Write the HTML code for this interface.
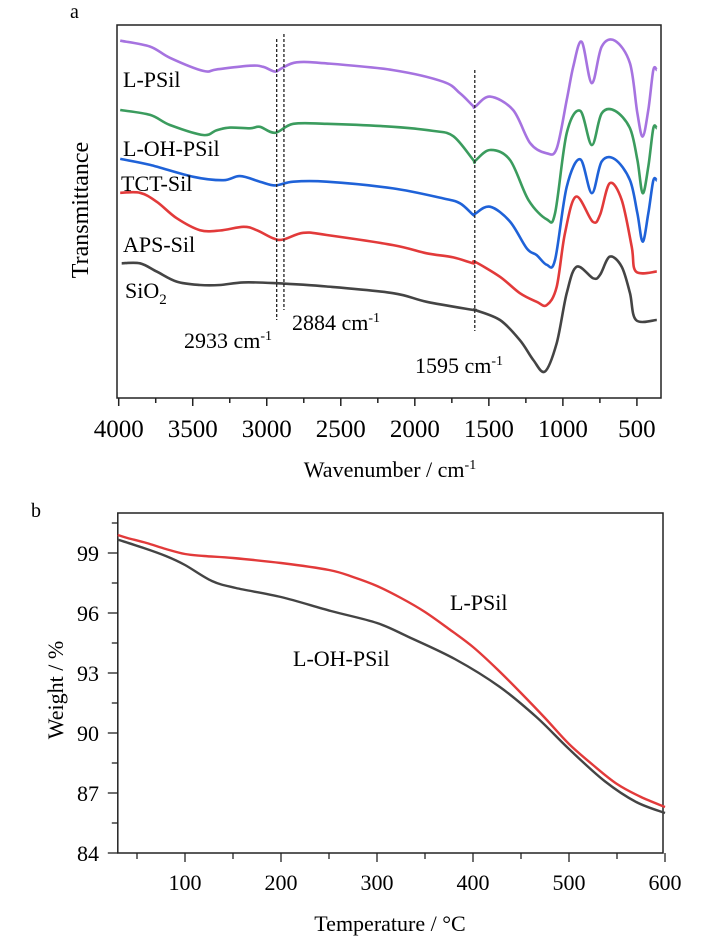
<!DOCTYPE html>
<html><head><meta charset="utf-8">
<style>
html,body{margin:0;padding:0;background:#fff;}
svg{display:block;font-family:"Liberation Serif",serif;}
</style></head>
<body>
<svg id="fig" width="708" height="944" viewBox="0 0 708 944">
  <g id="ir"></g>
  <g id="tga"></g>
</svg>
<script>
// ---- FTIR data (transmittance a.u.) ----
const irTicks = [4000,3500,3000,2500,2000,1500,1000,500];
const wnLPSil = [3990,3788,3654,3429,3338,3113,3025,2944,2899,2798,2595,2147,1809,1695,1607,1593,1492,1336,1221,1109,1042,974,930,873,805,738,648,547,497,461,423,389,366];
const tLPSil  = [95.8,94.2,91.2,87.7,88.1,89.1,88.8,87.5,88.4,90.0,89.7,87.9,84.8,81.7,78.3,78.1,80.8,77.2,68.3,65.6,66.9,79.9,88.8,95.5,84.4,94.2,95.8,89.7,76.3,70.1,77.2,87.9,87.9];
const wnLOH = [3990,3788,3654,3429,3338,3248,3113,3046,2944,2821,2595,2147,1877,1740,1605,1593,1492,1357,1233,1109,1053,974,883,805,738,648,547,497,461,423,389,366];
const tLOH  = [77.2,75.9,73.2,70.5,71.8,72.5,72.3,72.7,71.1,73.5,73.5,72.7,71.6,70.2,63.8,63.6,66.5,63.8,53.1,47.9,49.5,71.0,77.0,67.8,76.3,77.0,72.3,63.8,54.9,62.0,72.3,72.3];
const wnTCT = [3990,3788,3496,3293,3181,3046,2944,2821,2595,2147,1809,1695,1605,1593,1492,1357,1244,1177,1109,1053,974,883,805,738,648,547,497,461,423,389,366];
const tTCT  = [64.1,62.5,59.3,58.4,59.5,58.0,57.0,58.0,58.0,56.2,53.5,52.2,49.1,49.4,51.3,47.3,40.1,38.3,35.7,37.0,56.6,64.0,54.9,63.4,64.0,58.4,49.5,41.9,49.5,58.3,58.3];
const wnAPS = [3990,3856,3743,3608,3451,3316,3158,3068,2956,2888,2753,2595,2147,1920,1740,1605,1593,1425,1290,1177,1109,1042,986,911,799,749,683,603,535,506,366];
const tAPS  = [55.0,55.0,52.6,48.2,45.0,44.9,45.9,45.0,42.8,42.5,44.3,43.7,41.0,38.8,37.7,36.1,36.5,32.5,28.1,25.8,24.9,29.8,44.2,54.0,47.3,49.1,57.6,53.1,40.6,33.9,33.9];
const wnSiO2 = [3980,3856,3743,3608,3451,3316,3158,2956,2595,2147,1920,1605,1593,1425,1290,1200,1121,1042,974,907,795,749,683,603,547,506,366];
const tSiO2  = [36.1,36.1,33.9,31.2,30.3,30.3,31.0,30.8,29.9,28.1,25.8,23.6,23.6,20.9,15.5,10.2,7.1,14.7,28.1,35.2,32.1,33.0,37.9,35.2,28.1,20.9,20.9];
const markerWn = [2933,2884,1595];

// ---- TGA data ----
const tgaXTicks = [100,200,300,400,500,600];
const tgaYTicks = [84,87,90,93,96,99];
const tempLPSil = [30,40,60,80,100,120,150,200,250,275,300,325,350,375,400,425,450,475,500,525,550,575,600];
const wLPSil    = [99.9,99.75,99.5,99.2,98.95,98.85,98.75,98.5,98.15,97.8,97.35,96.75,96.05,95.2,94.3,93.2,92.0,90.75,89.45,88.4,87.45,86.8,86.3];
const tempLOH = [30,57,80,100,128,153,200,252,300,333,381,428,466,500,537,570,600];
const wLOH    = [99.67,99.25,98.85,98.4,97.6,97.25,96.8,96.1,95.5,94.8,93.7,92.3,90.8,89.2,87.6,86.55,86.0];

const NS='http://www.w3.org/2000/svg';
function mk(parent, tag, attrs, text){
  const e=document.createElementNS(NS,tag);
  for(const k in attrs) e.setAttribute(k,attrs[k]);
  if(text!==undefined) e.textContent=text;
  parent.appendChild(e); return e;
}
function smoothPath(pts){
  let d='M'+pts[0][0].toFixed(1)+','+pts[0][1].toFixed(1);
  for(let i=0;i<pts.length-1;i++){
    const p0=pts[Math.max(0,i-1)],p1=pts[i],p2=pts[i+1],p3=pts[Math.min(pts.length-1,i+2)];
    const c1=[p1[0]+(p2[0]-p0[0])/6,p1[1]+(p2[1]-p0[1])/6];
    const c2=[p2[0]-(p3[0]-p1[0])/6,p2[1]-(p3[1]-p1[1])/6];
    d+='C'+c1[0].toFixed(1)+','+c1[1].toFixed(1)+' '+c2[0].toFixed(1)+','+c2[1].toFixed(1)+' '+p2[0].toFixed(1)+','+p2[1].toFixed(1);
  }
  return d;
}

// ===== FTIR panel =====
const ir=document.getElementById('ir');
const irL=117,irR=661,irT=25,irB=398;
const xIR=w=>118.7+(4000-w)*0.14806;
const yIR=t=>irB-t*(irB-irT)/100;
let e;
e=mk(ir,'text',{x:70,y:18,'font-size':20},'a');


e=mk(ir,'rect',{x:irL,y:irT,width:irR-irL,height:irB-irT,fill:'none',stroke:'#222','stroke-width':1.5});


irTicks.forEach(w=>{
  const x=xIR(w);
  const t=mk(ir,'line',{x1:x,x2:x,y1:irB,y2:irB+8,stroke:'#222','stroke-width':1.5});
  
  
  const l=mk(ir,'text',{x:x,y:437,'font-size':25,'text-anchor':'middle'},String(w));
  
  
  if(w>500){
    const xm=xIR(w-250);
    const m=mk(ir,'line',{x1:xm,x2:xm,y1:irB,y2:irB+5,stroke:'#222','stroke-width':1.5});
    
    
  }
});
e=mk(ir,'text',{x:390,y:477,'font-size':22,'text-anchor':'middle'});


e.innerHTML='Wavenumber / cm<tspan dy="-8" font-size="14">-1</tspan>';
e=mk(ir,'text',{x:0,y:0,'font-size':24,'text-anchor':'middle',transform:'translate(88,210) rotate(-90)'},'Transmittance');



const irSeries=[
  [wnSiO2,tSiO2,'#444444','series-sio2'],
  [wnAPS,tAPS,'#e23a3a','series-aps-sil'],
  [wnTCT,tTCT,'#1f62d8','series-tct-sil'],
  [wnLOH,tLOH,'#3b9c5e','series-l-oh-psil'],
  [wnLPSil,tLPSil,'#a673e0','series-l-psil']
];
irSeries.forEach(s=>{
  const pts=s[0].map((w,i)=>[xIR(w),yIR(s[1][i])]);
  const p=mk(ir,'path',{d:smoothPath(pts),fill:'none',stroke:s[2],'stroke-width':2.6,'stroke-linejoin':'round'});
  
  
});
const markerSpan=[[39,320],[34,310],[70,331]];
markerWn.forEach((w,i)=>{
  const x=xIR(w);
  const l=mk(ir,'line',{x1:x,x2:x,y1:markerSpan[i][0],y2:markerSpan[i][1],stroke:'#222','stroke-width':1.3,'stroke-dasharray':'3,2'});
  
  
});
const irLabels=[['L-PSil',123,87],['L-OH-PSil',123,156],['TCT-Sil',121,191],['APS-Sil',123,252]];
irLabels.forEach(a=>{
  const t=mk(ir,'text',{x:a[1],y:a[2],'font-size':22},a[0]);
  
  
});
e=mk(ir,'text',{x:125,y:298,'font-size':22});


e.innerHTML='SiO<tspan dy="6" font-size="15">2</tspan>';
const peakLabels=[['2884',292,330],['2933',184,348],['1595',415,373]];
peakLabels.forEach(a=>{
  const t=mk(ir,'text',{x:a[1],y:a[2],'font-size':22});
  
  
  t.innerHTML=a[0]+' cm<tspan dy="-8" font-size="14">-1</tspan>';
});

// ===== TGA panel =====
const tg=document.getElementById('tga');
const tL=117.8,tR=663,tT=513,tB=853;
const xT=T=>117.8+(T-30)*0.96;
const yW=w=>553+(99-w)*20;
e=mk(tg,'text',{x:31,y:517,'font-size':20},'b');


e=mk(tg,'rect',{x:tL,y:tT,width:tR-tL,height:tB-tT,fill:'none',stroke:'#222','stroke-width':1.5});


tgaXTicks.forEach(T=>{
  const x=xT(T);
  const t=mk(tg,'line',{x1:x,x2:x,y1:tB,y2:tB+9,stroke:'#222','stroke-width':1.3});
  
  
  const l=mk(tg,'text',{x:x,y:890,'font-size':22,'text-anchor':'middle'},String(T));
  
  
  const xm=xT(T-50);
  const m=mk(tg,'line',{x1:xm,x2:xm,y1:tB,y2:tB+6,stroke:'#222','stroke-width':1.3});
  
  
});
tgaYTicks.forEach(w=>{
  const y=yW(w);
  const t=mk(tg,'line',{x1:tL-10,x2:tL,y1:y,y2:y,stroke:'#222','stroke-width':1.3});
  
  
  const l=mk(tg,'text',{x:99,y:y+8,'font-size':22,'text-anchor':'end'},String(w));
  
  
  const ym=yW(w+1.5);
  const m=mk(tg,'line',{x1:tL-6,x2:tL,y1:ym,y2:ym,stroke:'#222','stroke-width':1.3});
  
  
});
e=mk(tg,'text',{x:390,y:931,'font-size':22,'text-anchor':'middle'},'Temperature / \u00B0C');


e=mk(tg,'text',{x:0,y:0,'font-size':22,'text-anchor':'middle',transform:'translate(63,690) rotate(-90)'},'Weight / %');


const tgaSeries=[[tempLOH,wLOH,'#444444','series-l-oh-psil'],[tempLPSil,wLPSil,'#e23a3a','series-l-psil']];
tgaSeries.forEach(s=>{
  const pts=s[0].map((T,i)=>[xT(T),yW(s[1][i])]);
  const p=mk(tg,'path',{d:smoothPath(pts),fill:'none',stroke:s[2],'stroke-width':2.4});
  
  
});
e=mk(tg,'text',{x:450,y:610,'font-size':22},'L-PSil');


e=mk(tg,'text',{x:293,y:666,'font-size':22},'L-OH-PSil');


</script>
</body></html>
